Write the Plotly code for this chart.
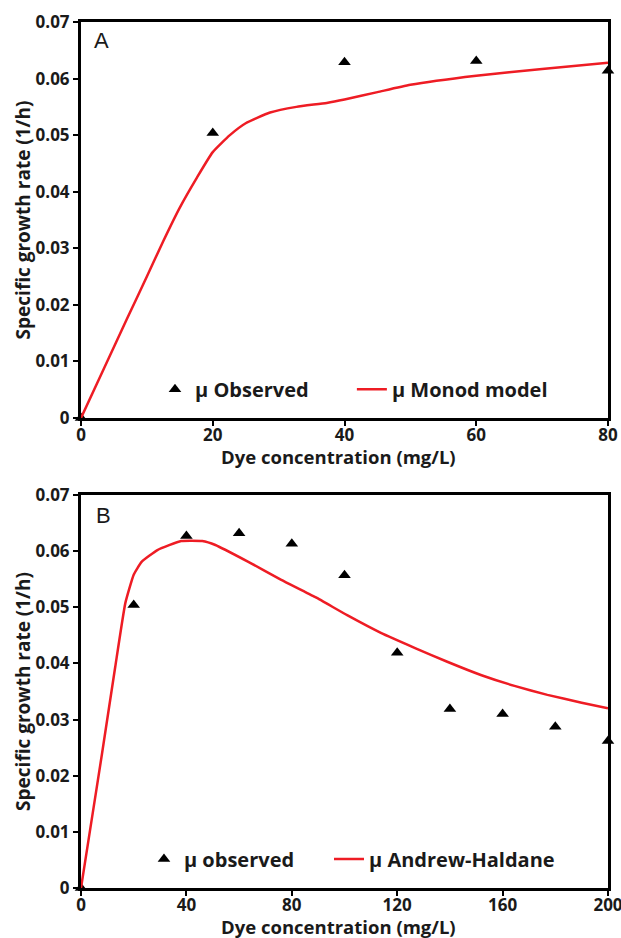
import plotly.graph_objects as go

# ---- data ----
obs_a_x = [0, 20, 40, 60, 80]
obs_a_y = [0, 0.0504, 0.0629, 0.0631, 0.0614]
monod_x = [0, 3.5, 7, 10, 12.5, 15, 17.6, 20, 22.6, 25, 28.7, 32.7, 37.3, 40, 45, 50, 60, 70, 80]
monod_y = [0, 0.0088, 0.0176, 0.0250, 0.0313, 0.0372, 0.0425, 0.0470, 0.0500, 0.0521, 0.0540,
           0.0550, 0.0557, 0.0563, 0.0576, 0.0589, 0.0605, 0.0617, 0.0628]

obs_b_x = [0, 20, 40, 60, 80, 100, 120, 140, 160, 180, 200]
obs_b_y = [0, 0.0504, 0.0627, 0.0632, 0.0613, 0.0557, 0.0419, 0.0319, 0.0310, 0.0287, 0.0262]
ah_x = [0, 4, 8, 13, 16.8, 20, 23, 29, 38, 46, 51, 63.5, 76, 89, 101, 114, 127, 139, 152, 164.5, 177, 190, 200]
ah_y = [0, 0.0120, 0.0240, 0.0394, 0.0507, 0.0558, 0.0581, 0.0602, 0.0618, 0.0618, 0.0611, 0.0581,
        0.0549, 0.0518, 0.0486, 0.0454, 0.0427, 0.0403, 0.0379, 0.0360, 0.0344, 0.0330, 0.0320]

y_ticks = [0, 0.01, 0.02, 0.03, 0.04, 0.05, 0.06, 0.07]
y_ticktext = ["0", "0.01", "0.02", "0.03", "0.04", "0.05", "0.06", "0.07"]
xa_ticks = [0, 20, 40, 60, 80]
xb_ticks = [0, 40, 80, 120, 160, 200]

X_TITLE = "Dye concentration (mg/L)"
Y_TITLE = "Specific growth rate (1/h)"

FONT = "Open Sans"
RED = "#ee1c24"
TXT = "#1a1a1a"

fig = go.Figure()
fig.add_trace(go.Scatter(x=obs_a_x, y=obs_a_y, mode="markers", name="μ Observed", showlegend=True,
                         marker=dict(symbol="triangle-up", size=11, color="black"),
                         cliponaxis=False, xaxis="x", yaxis="y", legend="legend"))
fig.add_trace(go.Scatter(x=monod_x, y=monod_y, mode="lines", name="μ Monod model", showlegend=True,
                         line=dict(color=RED, width=2.5, shape="spline", smoothing=0.5),
                         xaxis="x", yaxis="y", legend="legend2"))
fig.add_trace(go.Scatter(x=obs_b_x, y=obs_b_y, mode="markers", name="μ observed", showlegend=True,
                         marker=dict(symbol="triangle-up", size=11, color="black"),
                         cliponaxis=False, xaxis="x2", yaxis="y2", legend="legend3"))
fig.add_trace(go.Scatter(x=ah_x, y=ah_y, mode="lines", name="μ Andrew-Haldane", showlegend=True,
                         line=dict(color=RED, width=2.5, shape="spline", smoothing=0.4),
                         xaxis="x2", yaxis="y2", legend="legend4"))

axis_common = dict(showline=True, linewidth=3, linecolor="black", mirror=True,
                   ticks="outside", ticklen=5, tickwidth=2, tickcolor="black",
                   showgrid=False, zeroline=False, automargin=False,
                   ticklabeloverflow="allow",
                   tickfont=dict(family=FONT, size=17, color=TXT, weight="bold"))
title_font = dict(family=FONT, size=19, color=TXT, weight="bold")
xtitle_font = dict(family=FONT, size=18.5, color=TXT, weight="bold")
leg_font = dict(family=FONT, size=20, color=TXT, weight="bold")


def leg(x, y):
    return dict(orientation="h", x=x, y=y, xanchor="left", yanchor="middle",
                bgcolor="rgba(0,0,0,0)", font=leg_font)


fig.update_layout(
    width=621, height=938,
    showlegend=True,
    margin=dict(l=81, r=13, t=22, b=50),
    paper_bgcolor="white", plot_bgcolor="white",
    font=dict(family=FONT, color=TXT),
    xaxis=dict(domain=[0, 1], range=[0, 80], tickvals=xa_ticks, anchor="y",
               ticklabelstandoff=-5, **axis_common),
    yaxis=dict(domain=[0.5427, 1], range=[0, 0.07], tickvals=y_ticks, ticktext=y_ticktext, anchor="x",
               title=dict(text=Y_TITLE, font=title_font, standoff=0),
               **axis_common),
    xaxis2=dict(domain=[0, 1], range=[0, 200], tickvals=xb_ticks, anchor="y2",
                ticklabelstandoff=-5, **axis_common),
    yaxis2=dict(domain=[0, 0.4538], range=[0, 0.07], tickvals=y_ticks, ticktext=y_ticktext, anchor="x2",
                title=dict(text=Y_TITLE, font=title_font, standoff=0),
                **axis_common),
    legend=leg(0.1404, 0.576),
    legend2=leg(0.514, 0.576),
    legend3=leg(0.1195, 0.0335),
    legend4=leg(0.4706, 0.0335),
    annotations=[
        dict(text=X_TITLE, x=0.488, y=0, xref="x domain", yref="y domain", xanchor="center",
             yanchor="top", yshift=-25, borderpad=0, showarrow=False, font=xtitle_font),
        dict(text=X_TITLE, x=0.488, y=0, xref="x2 domain", yref="y2 domain", xanchor="center",
             yanchor="top", yshift=-25, borderpad=0, showarrow=False, font=xtitle_font),
        dict(text="A", x=0.021, y=0.99, xref="x domain", yref="y domain", xanchor="left", yanchor="top",
             showarrow=False, font=dict(family="Liberation Sans", size=22, color=TXT)),
        dict(text="B", x=0.025, y=0.984, xref="x2 domain", yref="y2 domain", xanchor="left", yanchor="top",
             showarrow=False, font=dict(family="Liberation Sans", size=22, color=TXT)),
    ],
)

fig.write_html("out.html")
